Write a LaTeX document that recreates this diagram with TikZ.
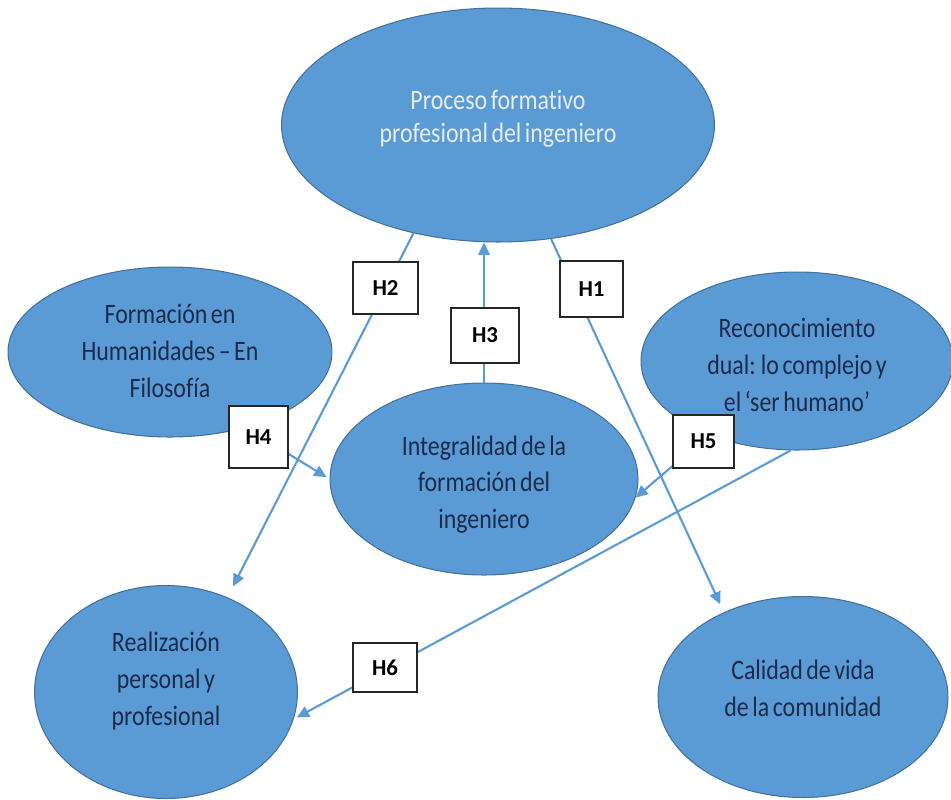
\documentclass[tikz,border=0pt]{standalone}
\usepackage{fontspec}
\setmainfont{Carlito}
\newfontfamily\elfont[FakeStretch=0.85,WordSpace=0.65,RawFeature=-liga]{Carlito}
\usetikzlibrary{shapes.geometric,arrows.meta}
\definecolor{ellfill}{HTML}{5B9BD5}
\definecolor{elldraw}{HTML}{41719C}
\definecolor{darktext}{HTML}{1C2B4A}
\definecolor{lighttext}{HTML}{E6EDF5}
\newcommand{\eltext}[2]{\raisebox{#1}[0pt][0pt]{\begin{tabular}[c]{@{}c@{}}#2\end{tabular}}}
\begin{document}
\begin{tikzpicture}[x=0.02cm,y=-0.02cm,
  ell/.style={ellipse, draw=elldraw, line width=0.6pt, fill=ellfill, inner sep=0pt,
    font=\elfont\fontsize{16}{21}\selectfont, text=darktext},
  hbox/.style={draw=black!85, line width=0.9pt, fill=white, inner sep=0pt,
    font=\bfseries\fontsize{13}{15}\selectfont},
  conn/.style={draw=ellfill, line width=1.2pt, -{Triangle[length=7pt,width=6.5pt]}}]
\useasboundingbox (0,0) rectangle (951,799);
% ellipses
\node[ell, minimum width=8.66cm, minimum height=4.68cm, text=lighttext,
  font=\elfont\fontsize{16}{19}\selectfont] (top) at (498,125)
  {\eltext{-1.2pt}{Proceso formativo\\profesional del ingeniero}};
\node[ell, minimum width=6.48cm, minimum height=3.4cm] (form) at (170,352)
  {\eltext{-5pt}{Formación en\\Humanidades – En\\Filosofía}};
\node[ell, minimum width=6.24cm, minimum height=3.56cm] (dual) at (797,361)
  {\eltext{-8pt}{Reconocimiento\\dual: lo complejo y\\el ‘ser humano’}};
\node[ell, minimum width=6.16cm, minimum height=3.84cm] (integ) at (484,479)
  {\eltext{-7.5pt}{Integralidad de la\\formación del\\ingeniero}};
\node[ell, minimum width=5.26cm, minimum height=4.26cm] (real) at (166,692)
  {\eltext{2pt}{Realización\\personal y\\profesional}};
\node[ell, minimum width=5.8cm, minimum height=4.02cm] (cal) at (803,697)
  {\eltext{-0.7pt}{Calidad de vida\\de la comunidad}};
% connectors
\draw[conn, shorten >=5pt] (top.-65) -- (cal.133);
\draw[conn, shorten >=7pt] (top.232.6) -- (real.57);
\draw[conn] (integ.north) -- (integ.north |- top.south);
\draw[conn, shorten >=2pt] (form.-45) -- (integ.180);
\draw[conn] (dual.220) -- (integ.-7);
\draw[conn, shorten >=2pt] (dual.-94) -- (real.-12.6);
% hypothesis boxes
\node[hbox, minimum width=1.26cm, minimum height=1.12cm] (h1) at (591.5,289) {H1};
\node[hbox, minimum width=1.30cm, minimum height=1.04cm] (h2) at (385.5,288) {H2};
\node[hbox, minimum width=1.36cm, minimum height=1.10cm] (h3) at (485,335.5) {H3};
\node[hbox, minimum width=1.18cm, minimum height=1.24cm] (h4) at (258.5,437) {H4};
\node[hbox, minimum width=1.22cm, minimum height=1.06cm] (h5) at (703.5,441.5) {H5};
\node[hbox, minimum width=1.28cm, minimum height=0.98cm] (h6) at (385,667.5) {H6};
\end{tikzpicture}
\end{document}
